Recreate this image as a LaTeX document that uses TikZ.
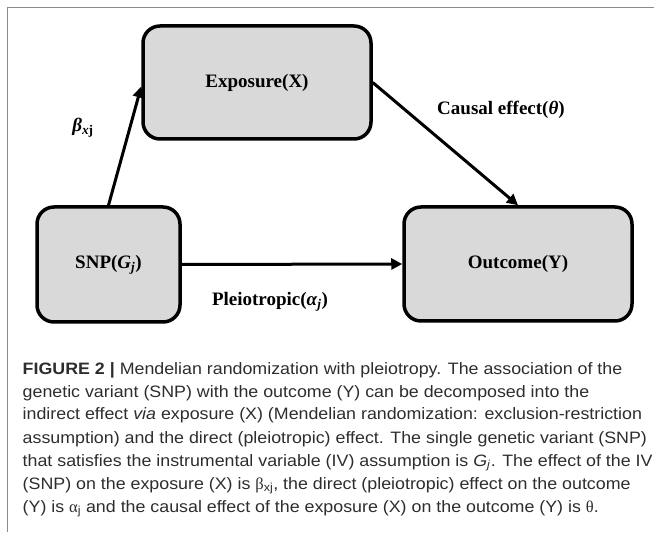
\documentclass[tikz,border=0pt]{standalone}
\usepackage{fontspec}
\setmainfont{Liberation Serif}
\newfontfamily\capfont[FakeStretch=1.08]{Liberation Sans}
\newfontfamily\grk{Liberation Serif}
\usetikzlibrary{arrows.meta}
\definecolor{boxgray}{RGB}{217,217,217}
\definecolor{framegray}{RGB}{140,140,140}
\definecolor{captext}{RGB}{45,45,45}
\begin{document}
\begin{tikzpicture}[x=1pt,y=-1pt,
  box/.style={draw=black, fill=boxgray, line width=3.5pt, rounded corners=17pt, inner sep=0pt,
    font=\bfseries\fontsize{19}{22}\selectfont},
  lab/.style={inner sep=0pt, font=\bfseries\fontsize{19}{22}\selectfont},
  conn/.style={line width=3pt, -{Triangle[length=11pt,width=11pt]}},
  capline/.style={anchor=base west, inner sep=0pt, text=captext, font=\capfont\fontsize{16.5}{20}\selectfont}]
\useasboundingbox (0,0) rectangle (654,540);
\draw[framegray, line width=1pt] (7,532) -- (7,8) -- (654,8);
% boxes
\node[box, minimum width=228pt, minimum height=113pt] (exp) at (257,82.5) {Exposure(X)};
\node[box, minimum width=143pt, minimum height=115pt] (snp) at (108.5,264.5) {SNP(\textit{G}\textsubscript{\textit{j}})};
\node[box, minimum width=228pt, minimum height=114pt] (out) at (518,264) {Outcome(Y)};
% connectors
\draw[conn] (snp.north) -- ([yshift=-4pt]exp.west);
\draw[conn] (exp.east) -- (out.north);
\draw[conn] (snp.east) -- (out.west);
% labels
\node[lab] (lbeta) at (83,128) {\textit{β}\textsubscript{\textit{x}j}};
\node[lab] (lcausal) at (501,110) {Causal effect(\textit{θ})};
\node[lab] (lpleio) at (270,302) {Pleiotropic(\textit{α}\textsubscript{\textit{j}})};
% caption
\node[capline] (c1) at (22.5,374) {\textbf{FIGURE 2 |} Mendelian randomization with pleiotropy. The association of the};
\node[capline] (c2) at (22.5,397) {genetic variant (SNP) with the outcome (Y) can be decomposed into the};
\node[capline] (c3) at (22.5,420) {indirect effect \textit{via} exposure (X) (Mendelian randomization: exclusion-restriction};
\node[capline] (c4) at (22.5,443) {assumption) and the direct (pleiotropic) effect. The single genetic variant (SNP)};
\node[capline] (c5) at (22.5,466) {that satisfies the instrumental variable (IV) assumption is \textit{G}\textsubscript{\textit{j}}. The effect of the IV};
\node[capline] (c6) at (22.5,489) {(SNP) on the exposure (X) is {\grk β}\textsubscript{xj}, the direct (pleiotropic) effect on the outcome};
\node[capline] (c7) at (22.5,512) {(Y) is {\grk α}\textsubscript{j} and the causal effect of the exposure (X) on the outcome (Y) is {\grk θ}.};
\end{tikzpicture}
\end{document}
